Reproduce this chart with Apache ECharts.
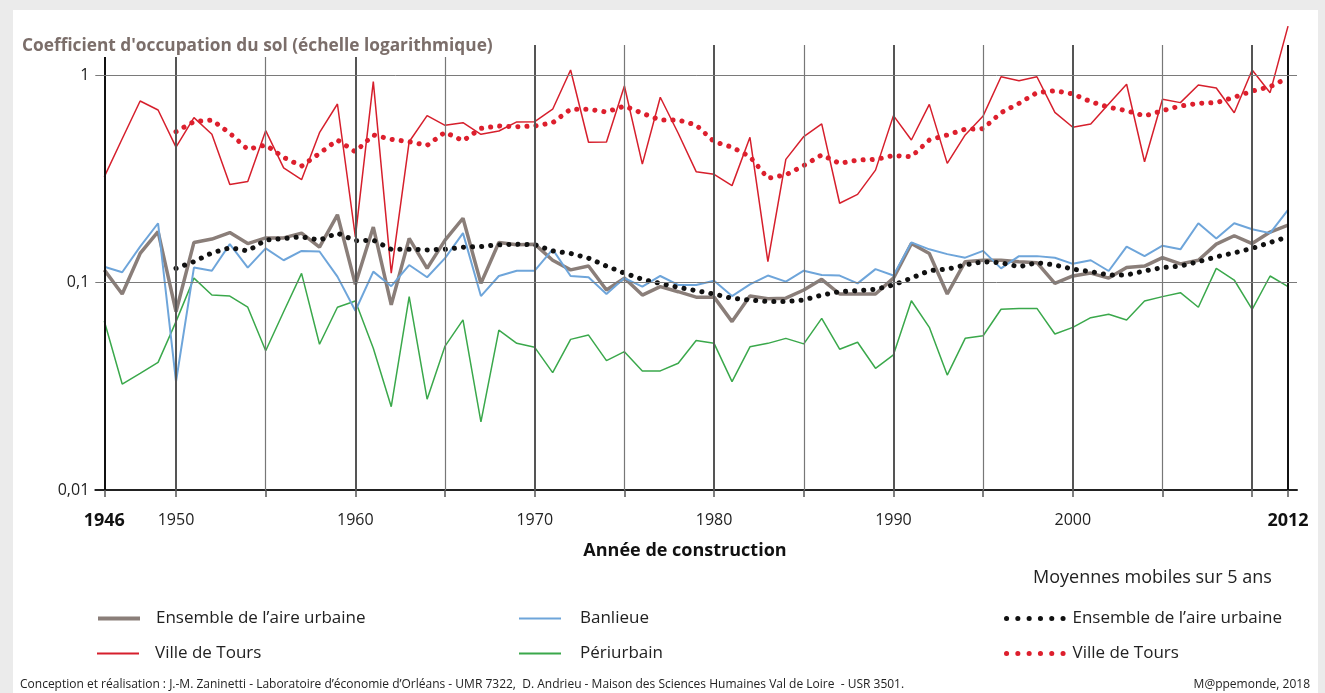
<!DOCTYPE html>
<html>
<head>
<meta charset="utf-8">
<script src="https://cdn.jsdelivr.net/npm/echarts@6/dist/echarts.min.js"></script>
<style>
html,body{margin:0;padding:0;background:#ebebeb;width:1325px;height:693px;overflow:hidden;}
#paper{position:absolute;left:13px;top:10px;width:1305px;height:683px;background:#fff;}
#chart{position:absolute;left:0;top:0;width:1325px;height:693px;}
</style>
</head>
<body>
<div id="paper"></div>
<div id="chart"></div>
<script>
// ---- data ----
const years = [1946,1947,1948,1949,1950,1951,1952,1953,1954,1955,1956,1957,1958,1959,1960,1961,1962,1963,1964,1965,1966,1967,1968,1969,1970,1971,1972,1973,1974,1975,1976,1977,1978,1979,1980,1981,1982,1983,1984,1985,1986,1987,1988,1989,1990,1991,1992,1993,1994,1995,1996,1997,1998,1999,2000,2001,2002,2003,2004,2005,2006,2007,2008,2009,2010,2011,2012];

const villeTours = [0.323,0.493,0.749,0.678,0.449,0.623,0.518,0.297,0.307,0.539,
  0.357,0.313,0.527,0.725,0.166,0.929,0.111,0.477,0.637,0.572,
  0.589,0.518,0.537,0.594,0.596,0.684,1.057,0.474,0.475,0.885,
  0.372,0.781,0.524,0.342,0.332,0.293,0.501,0.126,0.392,0.505,
  0.581,0.241,0.266,0.348,0.637,0.486,0.722,0.375,0.514,0.635,
  0.981,0.939,0.981,0.661,0.56,0.581,0.725,0.902,0.382,0.764,
  0.736,0.895,0.866,0.658,1.057,0.822,1.72];

const ensemble = [0.115,0.088,0.138,0.176,0.0723,0.156,0.162,0.174,0.154,0.164,
  0.164,0.173,0.148,0.212,0.098,0.185,0.078,0.163,0.117,0.16,
  0.204,0.099,0.156,0.152,0.153,0.128,0.115,0.12,0.092,0.105,
  0.087,0.0955,0.0903,0.085,0.085,0.0648,0.086,0.0836,0.084,0.092,
  0.1036,0.088,0.088,0.088,0.105,0.154,0.138,0.088,0.126,0.128,
  0.128,0.126,0.1246,0.099,0.1075,0.111,0.105,0.118,0.12,0.1317,
  0.123,0.128,0.153,0.168,0.154,0.175,0.189];

const banlieue = [0.119,0.112,0.149,0.193,0.0333,0.118,0.114,0.153,0.118,0.146,
  0.128,0.142,0.141,0.1067,0.0731,0.1128,0.096,0.1214,0.106,0.131,
  0.173,0.086,0.1075,0.114,0.114,0.1445,0.1075,0.106,0.088,0.105,
  0.0955,0.1075,0.0973,0.0973,0.102,0.086,0.098,0.108,0.101,0.114,
  0.1087,0.108,0.099,0.116,0.108,0.156,0.1445,0.137,0.1317,0.142,
  0.117,0.134,0.134,0.1317,0.123,0.128,0.1136,0.149,0.134,0.1504,
  0.1445,0.193,0.163,0.193,0.1805,0.173,0.2236];

const periurbain = [0.0652,0.0324,0.0365,0.0412,0.0648,0.105,0.087,0.086,0.076,0.0469,
  0.0723,0.1107,0.0504,0.076,0.0814,0.0482,0.0252,0.0855,0.0274,0.0494,
  0.066,0.0213,0.059,0.0509,0.0487,0.0368,0.0532,0.0558,0.042,0.0464,
  0.0375,0.0375,0.0408,0.0525,0.0509,0.0333,0.049,0.0509,0.0538,0.0506,
  0.0672,0.0477,0.0515,0.0386,0.0448,0.0817,0.0608,0.0358,0.0538,0.0554,
  0.0743,0.075,0.075,0.0565,0.0608,0.0677,0.0703,0.066,0.0814,0.0855,
  0.0893,0.076,0.117,0.1028,0.0743,0.1075,0.0955];

const ensembleMM = [null,null,null,null,
  0.117,0.126,0.139,0.147,0.142,0.16,0.163,0.166,0.16,0.173,
  0.159,0.16,0.1445,0.1445,0.1436,0.1445,0.148,0.149,0.152,0.153,
  0.152,0.142,0.138,0.131,0.12,0.111,0.1036,0.099,0.0948,0.0913,
  0.088,0.0839,0.0824,0.081,0.081,0.0824,0.087,0.0903,0.0913,0.0927,
  0.0973,0.105,0.114,0.116,0.1214,0.126,0.1246,0.119,0.1246,0.1214,
  0.116,0.1128,0.1087,0.1087,0.1136,0.118,0.12,0.126,0.133,0.139,
  0.146,0.156,0.166];

const villeToursMM = [null,null,null,null,
  0.533,0.596,0.607,0.524,0.438,0.46,0.401,0.364,0.419,0.486,
  0.427,0.514,0.49,0.477,0.458,0.53,0.482,0.553,0.568,0.563,
  0.568,0.589,0.684,0.684,0.663,0.709,0.654,0.607,0.607,0.574,
  0.477,0.449,0.404,0.318,0.33,0.366,0.412,0.375,0.389,0.392,
  0.409,0.404,0.486,0.514,0.548,0.551,0.658,0.73,0.822,0.84,
  0.81,0.744,0.699,0.673,0.635,0.673,0.709,0.73,0.736,0.781,
  0.837,0.878,0.97];

const xLabelYears = [1946,1950,1960,1970,1980,1990,2000,2012];
const gridYears = [1946,1950,1955,1960,1965,1970,1975,1980,1985,1990,1995,2000,2005,2010,2012];
const yGridValues = [0.1, 1];
const yTickLabels = ['0,01','0,1','1'];

const seriesNames = {
  ens: "Ensemble de l\u2019aire urbaine",
  tours: "Ville de Tours",
  ban: "Banlieue",
  peri: "Périurbain",
  ensMM: "Ensemble de l\u2019aire urbaine",
  toursMM: "Ville de Tours"
};

// ---- chart ----
const pairs = arr => years.map((y, i) => [y, arr[i]]);
const FONT = 'Open Sans';

const styles = {
  peri:    {color: '#3aa84b', width: 1.5, type: 'solid'},
  ens:     {color: '#8a7e79', width: 3.5, type: 'solid'},
  ban:     {color: '#6ea5da', width: 2, type: 'solid'},
  tours:   {color: '#d61f2c', width: 1.5, type: 'solid'},
  ensMM:   {color: '#111', width: 5, type: [0.1, 9], cap: 'round'},
  toursMM: {color: '#dd1f2d', width: 5, type: [0.1, 9], cap: 'round'}
};

const vLines = gridYears.map(y => {
  let st;
  if (y === 1946 || y === 2012) st = {color: '#111', width: 2, type: 'solid'};
  else if (y % 10 === 0) st = {color: '#555', width: 2, type: 'solid'};
  else st = {color: '#777', width: 1.2, type: 'solid'};
  return {xAxis: y, lineStyle: st};
});
const hLines = yGridValues.map(v => ({yAxis: v, lineStyle: {color: '#7a7a7a', width: 1, type: 'solid'}}));

function legendFor(name, left, top, itemWidth, textPad, lineStyle) {
  return {
    data: [name], left: left, top: top, itemWidth: itemWidth, itemHeight: 14, selectedMode: false,
    formatter: n => seriesNames[n],
    itemStyle: {opacity: 0, borderWidth: 0},
    lineStyle: lineStyle,
    textStyle: {fontFamily: FONT, fontSize: 17, color: '#222', lineHeight: 23, padding: [0, 0, 0, textPad]}
  };
}
const dotLegend = c => ({color: c, width: 5, type: [0.1, 11.2], cap: 'round', dashOffset: -2});

const chart = echarts.init(document.getElementById('chart'), null, {renderer: 'canvas'});
const option = {
  animation: false,
  backgroundColor: 'transparent',
  textStyle: {fontFamily: FONT},
  title: [
    {text: "Coefficient d'occupation du sol (échelle logarithmique)", left: 18, top: 36, padding: [2, 4, 2, 4],
     backgroundColor: '#fff', z: 20,
     textStyle: {fontFamily: FONT, fontSize: 17.3, fontWeight: 'bold', color: '#7b6e6a'}},
    {text: 'Année de construction', left: 685, textAlign: 'center', top: 542, padding: 0,
     textStyle: {fontFamily: FONT, fontSize: 18, fontWeight: 'bold', color: '#111'}},
    {text: 'Moyennes mobiles sur 5 ans', left: 1033, top: 569, padding: 0,
     textStyle: {fontFamily: FONT, fontSize: 18, fontWeight: 'normal', color: '#222'}},
    {text: "Conception et réalisation : J.-M. Zaninetti - Laboratoire d\u2019économie d\u2019Orléans - UMR 7322,  D. Andrieu - Maison des Sciences Humaines Val de Loire  - USR 3501.",
     left: 20, top: 679, padding: 0,
     textStyle: {fontFamily: FONT, fontSize: 12, fontWeight: 'normal', color: '#222'}},
    {text: 'M@ppemonde, 2018', right: 15, top: 679, padding: 0,
     textStyle: {fontFamily: FONT, fontSize: 12, fontWeight: 'normal', color: '#222'}}
  ],
  legend: [
    legendFor('ens', 91, 602, 42, 11, {color: '#8a7e79', width: 4}),
    legendFor('tours', 91, 637, 42, 11, {color: '#d61f2c', width: 2}),
    legendFor('ban', 513, 602, 42, 14, {color: '#6ea5da', width: 2}),
    legendFor('peri', 513, 637, 42, 14, {color: '#3aa84b', width: 2}),
    legendFor('ensMM', 997, 602, 60, 3, dotLegend('#111')),
    legendFor('toursMM', 997, 637, 60, 3, dotLegend('#dd1f2d'))
  ],
  grid: {left: 95.3, right: 28, top: 45, bottom: 203, containLabel: false},
  xAxis: {
    type: 'value', min: 1945.5, max: 2012.5,
    axisLine: {show: true, lineStyle: {color: '#222', width: 2}},
    axisTick: {show: true, customValues: gridYears, length: 7, lineStyle: {color: '#555', width: 1.5}},
    splitLine: {show: false},
    axisLabel: {
      customValues: xLabelYears, margin: 22, fontFamily: FONT, fontSize: 16, color: '#222',
      formatter: v => (v === 1946 || v === 2012) ? '{b|' + v + '}' : String(v),
      rich: {b: {fontFamily: FONT, fontSize: 18, fontWeight: 'bold', color: '#111'}}
    }
  },
  yAxis: {
    type: 'log', logBase: 10, min: 0.01, max: 1.395,
    axisLine: {show: false}, axisTick: {show: false}, splitLine: {show: false},
    axisLabel: {
      margin: 6, fontFamily: FONT, fontSize: 16, color: '#222', showMaxLabel: false,
      formatter: v => {
        const l = Math.log10(v), e = Math.round(l);
        if (Math.abs(l - e) > 0.01) return '';
        return yTickLabels[e + 2] || '';
      }
    }
  },
  series: [
    {name: 'peri', type: 'line', data: pairs(periurbain), showSymbol: false, symbol: 'none', clip: false,
     lineStyle: styles.peri, itemStyle: {color: styles.peri.color},
     markLine: {silent: true, symbol: 'none', label: {show: false}, data: vLines.concat(hLines)}},
    {name: 'ens', type: 'line', data: pairs(ensemble), showSymbol: false, symbol: 'none', clip: false,
     lineStyle: styles.ens, itemStyle: {color: styles.ens.color}},
    {name: 'ban', type: 'line', data: pairs(banlieue), showSymbol: false, symbol: 'none', clip: false,
     lineStyle: styles.ban, itemStyle: {color: styles.ban.color}},
    {name: 'tours', type: 'line', data: pairs(villeTours), showSymbol: false, symbol: 'none', clip: false,
     lineStyle: styles.tours, itemStyle: {color: styles.tours.color}},
    {name: 'ensMM', type: 'line', data: pairs(ensembleMM), showSymbol: false, symbol: 'none', clip: false,
     lineStyle: styles.ensMM, itemStyle: {color: styles.ensMM.color}},
    {name: 'toursMM', type: 'line', data: pairs(villeToursMM), showSymbol: false, symbol: 'none', clip: false,
     lineStyle: styles.toursMM, itemStyle: {color: styles.toursMM.color}}
  ]
};
chart.setOption(option);
</script>
</body>
</html>
